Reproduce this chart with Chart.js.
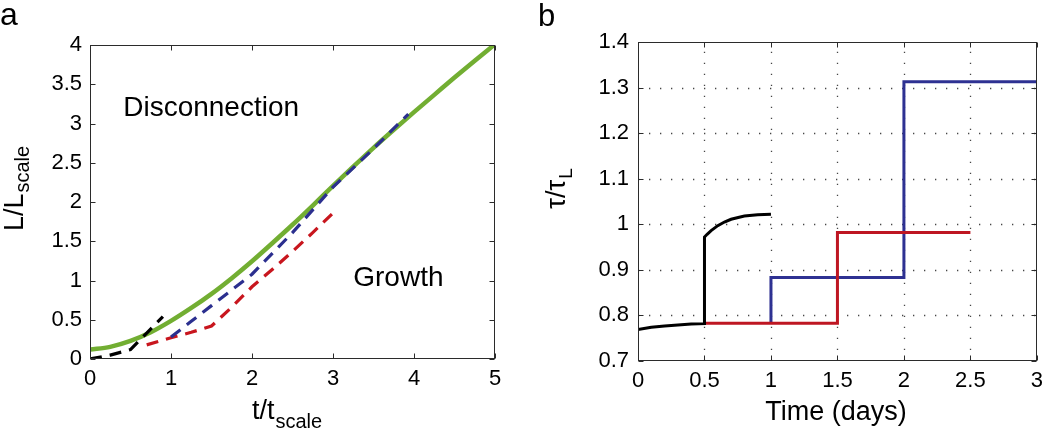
<!DOCTYPE html>
<html>
<head>
<meta charset="utf-8">
<script src="https://cdn.jsdelivr.net/npm/chart.js@4.4.1/dist/chart.umd.min.js"></script>
<style>
html,body{margin:0;padding:0;background:#fff;}
#wrap{position:relative;width:1050px;height:436px;overflow:hidden;background:#fff;}
#ca{position:absolute;left:0;top:0;}
#cb{position:absolute;left:520px;top:0;}
</style>
</head>
<body>
<div id="wrap">
<canvas id="ca" width="520" height="436"></canvas>
<canvas id="cb" width="530" height="436"></canvas>
</div>
<script>
// ---------- Panel a data ----------
const aXTicks = [0, 1, 2, 3, 4, 5];
const aXTickLabels = ['0', '1', '2', '3', '4', '5'];
const aYTicks = [0, 0.5, 1, 1.5, 2, 2.5, 3, 3.5, 4];
const aYTickLabels = ['0', '0.5', '1', '1.5', '2', '2.5', '3', '3.5', '4'];

const greenT = [0, 0.25, 0.5, 0.75, 1, 1.25, 1.5, 1.75, 2, 2.25, 2.5, 2.75, 3, 3.25, 3.5, 3.75, 4, 4.25, 4.5, 4.75, 5];
const greenL = [0.12, 0.155, 0.23, 0.34, 0.485, 0.65, 0.83, 1.03, 1.245, 1.475, 1.71, 1.955, 2.205, 2.45, 2.69, 2.92, 3.145, 3.365, 3.585, 3.80, 4.01];

const blackT = [0, 0.25, 0.5, 0.7, 0.9];
const blackL = [0.0, 0.05, 0.12, 0.33, 0.54];

const redT = [0.7, 1.0, 1.25, 1.5, 1.75, 2, 2.25, 2.5, 2.75, 3];
const redL = [0.18, 0.27, 0.34, 0.42, 0.66, 0.92, 1.14, 1.37, 1.61, 1.86];

const blueT = [1, 1.25, 1.5, 1.75, 2, 2.5, 3, 3.5, 3.93];
const blueL = [0.28, 0.48, 0.68, 0.88, 1.08, 1.61, 2.19, 2.68, 3.12];

// ---------- Panel b data ----------
const bXTicks = [0, 0.5, 1, 1.5, 2, 2.5, 3];
const bXTickLabels = ['0', '0.5', '1', '1.5', '2', '2.5', '3'];
const bYTicks = [0.7, 0.8, 0.9, 1.0, 1.1, 1.2, 1.3, 1.4];
const bYTickLabels = ['0.7', '0.8', '0.9', '1', '1.1', '1.2', '1.3', '1.4'];

const bBlackT = [0, 0.1, 0.2, 0.3, 0.4, 0.5, 0.5, 0.52, 0.55, 0.6, 0.65, 0.7, 0.8, 0.9, 1.0];
const bBlackV = [0.769, 0.774, 0.777, 0.779, 0.781, 0.782, 0.972, 0.978, 0.986, 0.997, 1.005, 1.011, 1.018, 1.021, 1.022];

const bRedT = [0.5, 1.5, 2.5];
const bRedV = [0.783, 0.982, 0.982];

const bBlueT = [1, 1, 2, 3];
const bBlueV = [0.783, 0.883, 1.313, 1.313];

// ---------- helpers ----------
const FONT = "'Liberation Sans', Arial, Helvetica, sans-serif";
const pts = (T, V) => T.map((t, i) => ({ x: t, y: V[i] }));

function scaleCfg(min, max, tickVals, tickLabels, isX, fitSize, pad) {
  return {
    type: 'linear',
    position: isX ? 'bottom' : 'left',
    min: min, max: max,
    afterBuildTicks: s => { s.ticks = tickVals.map(v => ({ value: v })); },
    afterFit: s => { if (isX) s.height = fitSize; else s.width = fitSize; },
    grid: { display: false, drawTicks: false },
    border: { display: false },
    ticks: {
      color: '#000', padding: pad, maxRotation: 0, autoSkip: false,
      font: { size: 22, family: FONT },
      callback: (v, i) => tickLabels[i]
    }
  };
}

function framePlugin(xTicks, yTicks, dotted) {
  return {
    id: 'frame',
    beforeDatasetsDraw(chart) {
      if (!dotted) return;
      const { ctx, chartArea: a } = chart;
      const xs = chart.scales.x, ys = chart.scales.y;
      ctx.save();
      ctx.strokeStyle = 'rgba(50,50,50,0.9)';
      ctx.lineWidth = 1.3;
      ctx.setLineDash([1.3, 9.7]);
      xTicks.forEach(v => {
        const px = Math.round(xs.getPixelForValue(v)) + 0.5;
        if (px < a.left + 2 || px > a.right - 2) return;
        ctx.beginPath(); ctx.moveTo(px, a.bottom); ctx.lineTo(px, a.top); ctx.stroke();
      });
      yTicks.forEach(v => {
        const py = Math.round(ys.getPixelForValue(v)) + 0.5;
        if (py < a.top + 2 || py > a.bottom - 2) return;
        ctx.beginPath(); ctx.moveTo(a.left, py); ctx.lineTo(a.right, py); ctx.stroke();
      });
      ctx.restore();
    },
    afterDatasetsDraw(chart) {
      const { ctx, chartArea: a } = chart;
      const xs = chart.scales.x, ys = chart.scales.y;
      const L = Math.round(a.left) + 0.5, R = Math.round(a.right) - 0.5;
      const T = Math.round(a.top) + 0.5, B = Math.round(a.bottom) - 0.5;
      ctx.save();
      ctx.setLineDash([]);
      ctx.strokeStyle = '#2b2b2b';
      ctx.lineWidth = 1;
      ctx.strokeRect(L, T, R - L, B - T);
      const tl = 5;
      ctx.beginPath();
      xTicks.forEach(v => {
        const px = Math.round(xs.getPixelForValue(v)) + 0.5;
        ctx.moveTo(px, B); ctx.lineTo(px, B - tl);
        ctx.moveTo(px, T); ctx.lineTo(px, T + tl);
      });
      yTicks.forEach(v => {
        const py = Math.round(ys.getPixelForValue(v)) + 0.5;
        ctx.moveTo(L, py); ctx.lineTo(L + tl, py);
        ctx.moveTo(R, py); ctx.lineTo(R - tl, py);
      });
      ctx.stroke();
      ctx.restore();
    }
  };
}

function subWidth(ctx, main, sub, ms, ss) {
  ctx.font = ms + 'px ' + FONT;
  const w1 = ctx.measureText(main).width;
  ctx.font = ss + 'px ' + FONT;
  const w2 = ctx.measureText(sub).width;
  return [w1, w2];
}
function drawSub(ctx, main, sub, cx, base, ms, ss, shift) {
  const [w1, w2] = subWidth(ctx, main, sub, ms, ss);
  const x0 = cx - (w1 + w2 + 1) / 2;
  ctx.textAlign = 'left';
  ctx.textBaseline = 'alphabetic';
  ctx.font = ms + 'px ' + FONT;
  ctx.fillText(main, x0, base);
  ctx.font = ss + 'px ' + FONT;
  ctx.fillText(sub, x0 + w1 + 1, base + shift);
}

Chart.defaults.animation = false;
Chart.defaults.font.family = FONT;

// ---------- Panel a ----------
const textA = {
  id: 'textA',
  afterDraw(chart) {
    const ctx = chart.ctx;
    const xs = chart.scales.x, ys = chart.scales.y;
    ctx.save();
    ctx.fillStyle = '#000';
    ctx.textAlign = 'left';
    ctx.textBaseline = 'alphabetic';
    ctx.font = '32px ' + FONT;
    ctx.fillText('a', 0, 25);
    ctx.font = '28px ' + FONT;
    ctx.fillText('Disconnection', xs.getPixelForValue(0.41), ys.getPixelForValue(3.10));
    ctx.fillText('Growth', xs.getPixelForValue(3.25), ys.getPixelForValue(0.93));
    drawSub(ctx, 't/t', 'scale', 287, 419, 27, 20, 9);
    ctx.save();
    ctx.translate(23, 188.5);
    ctx.rotate(-Math.PI / 2);
    drawSub(ctx, 'L/L', 'scale', 0, 0, 27, 20, 6);
    ctx.restore();
    ctx.restore();
  }
};

new Chart(document.getElementById('ca'), {
  type: 'line',
  data: {
    datasets: [
      { data: pts(blackT, blackL), borderColor: '#000000', borderWidth: 3.2, borderDash: [12, 8], tension: 0, pointRadius: 0, fill: false },
      { data: pts(blueT, blueL), borderColor: '#2B2F8F', borderWidth: 3.2, borderDash: [12, 8], tension: 0, pointRadius: 0, fill: false },
      { data: pts(redT, redL), borderColor: '#C8161E', borderWidth: 3.2, borderDash: [12, 8], tension: 0, pointRadius: 0, fill: false },
      { data: pts(greenT, greenL), borderColor: '#72AE32', borderWidth: 4.5, cubicInterpolationMode: 'monotone', pointRadius: 0, fill: false }
    ]
  },
  options: {
    responsive: false,
    devicePixelRatio: 1,
    events: [],
    layout: { padding: { left: 0, top: 45, right: 25, bottom: 0 } },
    plugins: { legend: { display: false }, tooltip: { enabled: false } },
    scales: {
      x: scaleCfg(0, 5, aXTicks, aXTickLabels, true, 77, 7),
      y: scaleCfg(0, 4, aYTicks, aYTickLabels, false, 90, 8)
    }
  },
  plugins: [framePlugin(aXTicks, aYTicks, false), textA]
});

// ---------- Panel b ----------
const textB = {
  id: 'textB',
  afterDraw(chart) {
    const ctx = chart.ctx;
    ctx.save();
    ctx.fillStyle = '#000';
    ctx.textAlign = 'left';
    ctx.textBaseline = 'alphabetic';
    ctx.font = '31px ' + FONT;
    ctx.fillText('b', 18, 26);
    ctx.font = '27px ' + FONT;
    ctx.textAlign = 'center';
    ctx.fillText('Time (days)', 316, 420);
    ctx.save();
    ctx.translate(45, 188.5);
    ctx.rotate(-Math.PI / 2);
    drawSub(ctx, '\u03C4/\u03C4', 'L', 0, 0, 27, 19, 7);
    ctx.restore();
    ctx.restore();
  }
};

new Chart(document.getElementById('cb'), {
  type: 'line',
  data: {
    datasets: [
      { data: pts(bBlackT, bBlackV), borderColor: '#000000', borderWidth: 3, tension: 0, pointRadius: 0, fill: false },
      { data: pts(bRedT, bRedV), borderColor: '#BE1622', borderWidth: 3, stepped: 'before', pointRadius: 0, fill: false },
      { data: pts(bBlueT, bBlueV), borderColor: '#2E3192', borderWidth: 3, stepped: 'before', pointRadius: 0, fill: false }
    ]
  },
  options: {
    responsive: false,
    devicePixelRatio: 1,
    events: [],
    layout: { padding: { left: 0, top: 42, right: 12, bottom: 0 } },
    plugins: { legend: { display: false }, tooltip: { enabled: false } },
    scales: {
      x: scaleCfg(0, 3, bXTicks, bXTickLabels, true, 75, 7),
      y: scaleCfg(0.7, 1.4, bYTicks, bYTickLabels, false, 118, 9)
    }
  },
  plugins: [framePlugin(bXTicks, bYTicks, true), textB]
});
</script>
</body>
</html>
